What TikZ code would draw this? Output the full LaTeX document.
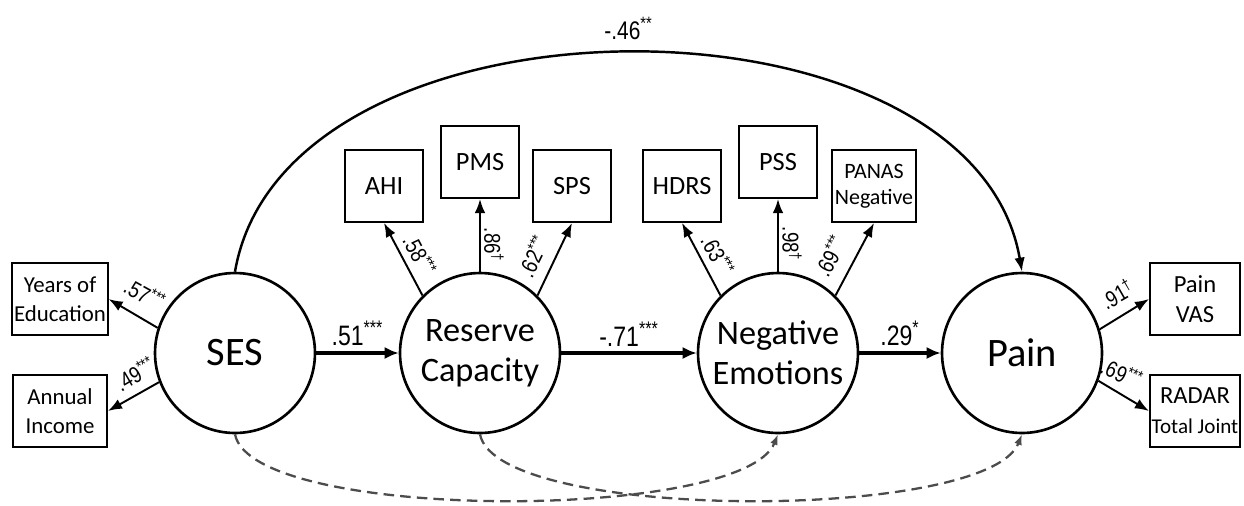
\documentclass[tikz,border=0pt]{standalone}
\usepackage{fontspec}
\setmainfont{Carlito}
\newfontfamily\nar{Liberation Sans}[FakeStretch=0.82]
\usetikzlibrary{arrows.meta}
\begin{document}
\begin{tikzpicture}[x=0.02cm,y=-0.02cm,
 lat/.style={circle, draw, line width=1.5pt, minimum size=3.2cm, inner sep=0pt, align=center},
 ind/.style={draw, line width=1.1pt, inner sep=1pt, align=center, minimum height=1.44cm},
 ld/.style={line width=1.1pt, -{Latex[length=8pt,width=6pt]}},
 pth/.style={line width=1.8pt, -{Latex[length=8pt,width=7pt]}},
 cov/.style={line width=1.3pt, dash pattern=on 6pt off 3.5pt, draw=black!70, -{Latex[length=6pt,width=4.5pt]}},
 coef/.style={font=\nar\fontsize{16}{18}\selectfont, inner sep=1pt},
 lcoef/.style={font=\nar\fontsize{13}{15}\selectfont, inner sep=0.5pt},
]
\useasboundingbox (0,0) rectangle (1244,505);

% latent variables
\node[lat, font=\fontsize{23}{26}\selectfont] (ses) at (235,353) {SES};
\node[lat, font=\fontsize{19.5}{22.5}\selectfont] (rc) at (480,353) {Reserve\\Capacity};
\node[lat, font=\fontsize{19.5}{22.5}\selectfont] (ne) at (778,353) {Negative\\Emotions};
\node[lat, font=\fontsize{23}{26}\selectfont] (pain) at (1022,353) {Pain};

% indicators
\node[ind, minimum width=1.88cm, font=\fontsize{13}{16.5}\selectfont] (yoe) at (60,299) {Years of\\Education};
\node[ind, minimum width=1.88cm, font=\fontsize{13}{16.5}\selectfont] (ai) at (60,411) {Annual\\Income};
\node[ind, minimum width=1.56cm, font=\fontsize{15}{18}\selectfont] (ahi) at (384,186) {AHI};
\node[ind, minimum width=1.56cm, font=\fontsize{15}{18}\selectfont] (pms) at (480,162) {PMS};
\node[ind, minimum width=1.56cm, font=\fontsize{15}{18}\selectfont] (sps) at (572,186) {SPS};
\node[ind, minimum width=1.56cm, font=\fontsize{15}{18}\selectfont] (hdrs) at (682,186) {HDRS};
\node[ind, minimum width=1.56cm, font=\fontsize{15}{18}\selectfont] (pss) at (778,162) {PSS};
\node[ind, minimum width=1.68cm, font=\fontsize{12.5}{15}\selectfont] (panas) at (874,186) {PANAS\\Negative};
\node[ind, minimum width=1.80cm, font=\fontsize{14}{17}\selectfont] (vas) at (1195,299) {Pain\\VAS};
\node[ind, minimum width=1.80cm, font=\fontsize{14}{17}\selectfont] (radar) at (1195,411) {RADAR\\{\fontsize{12}{15}\selectfont Total Joint}};

% loadings
\draw[ld] (ses.162) -- (yoe.east);
\draw[ld] (ses.201) -- (ai.east);
\draw[ld] (rc.135) -- (ahi.south);
\draw[ld] (rc.90) -- (pms.south);
\draw[ld] (rc.45) -- (sps.south);
\draw[ld] (ne.135) -- (hdrs.south);
\draw[ld] (ne.90) -- (pss.south);
\draw[ld] (ne.45) -- (panas.south);
\draw[ld] (pain.17) -- (vas.west);
\draw[ld] (pain.-20) -- (radar.west);

\node[lcoef, rotate=-29] (l1) at (145,294) {.57\textsuperscript{***}};
\node[lcoef, rotate=30] (l2) at (135,374) {.49\textsuperscript{***}};
\node[lcoef, rotate=-62] (l3) at (420,255) {.58\textsuperscript{***}};
\node[lcoef, rotate=-90] (l4) at (494,245) {.86\textsuperscript{†}};
\node[lcoef, rotate=64] (l5) at (533,256) {.62\textsuperscript{***}};
\node[lcoef, rotate=-62] (l6) at (718,255) {.63\textsuperscript{***}};
\node[lcoef, rotate=-90] (l7) at (792,244) {.98\textsuperscript{†}};
\node[lcoef, rotate=62] (l8) at (830,256) {.69\textsuperscript{***}};
\node[lcoef, rotate=30] (l9) at (1117,294) {.91\textsuperscript{†}};
\node[lcoef, rotate=-25] (l10) at (1122,373) {.69\textsuperscript{***}};

% structural paths
\draw[pth] (ses.east) -- node[coef, midway, above=2pt] (p1) {.51\textsuperscript{***}} (rc.west);
\draw[pth] (rc.east) -- node[coef, midway, above=2pt] (p2) {-.71\textsuperscript{***}} (ne.west);
\draw[pth] (ne.east) -- node[coef, midway, above=2pt] (p3) {.29\textsuperscript{*}} (pain.west);
\draw[ld, line width=1.4pt] (ses.north) .. controls (285,-20) and (972,-20) .. node[coef, pos=0.5, above=6pt, font=\nar\fontsize{14.5}{16}\selectfont] (p4) {-.46\textsuperscript{**}} (pain.north);

% covariances
\draw[cov] (ses.south) .. controls (252,522) and (742,522) .. (ne.south);
\draw[cov] (rc.south) .. controls (497,522) and (987,522) .. (pain.south);
\end{tikzpicture}
\end{document}
